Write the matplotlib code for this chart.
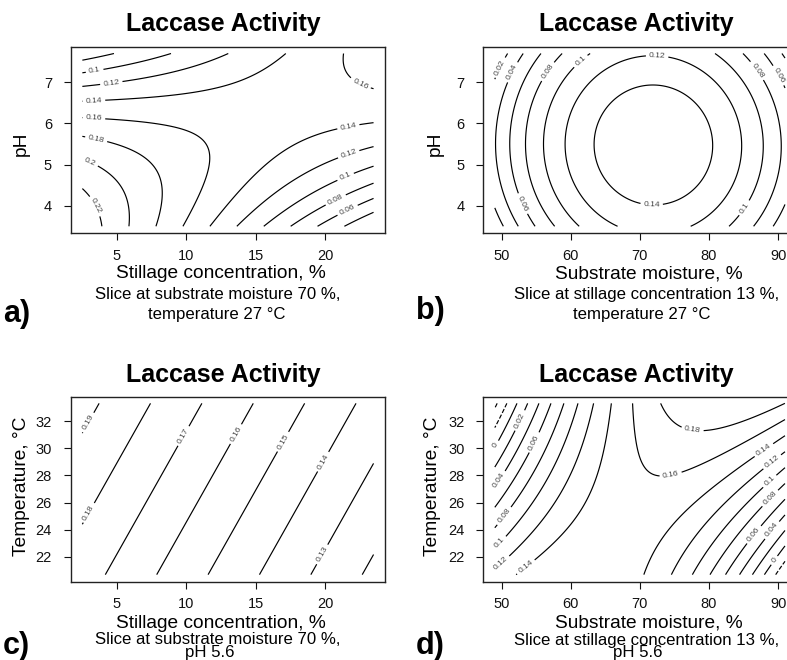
import numpy as np
import matplotlib
matplotlib.use("Agg")
import matplotlib.pyplot as plt

plt.rcParams['font.family'] = ['Liberation Sans', 'DejaVu Sans']

# ---------------- data (contour crossings) ----------------
# Panel a: stillage concentration (%) vs pH
a_level = [0.08, 0.08, 0.10, 0.10, 0.10, 0.12, 0.12, 0.12,
           0.14, 0.14, 0.14, 0.14, 0.14,
           0.16, 0.16, 0.16, 0.16, 0.16, 0.16, 0.16,
           0.18, 0.18, 0.18, 0.18, 0.18,
           0.20, 0.20, 0.20, 0.20, 0.22, 0.22,
           0.16, 0.16, 0.16,
           0.14, 0.14, 0.14, 0.14, 0.14,
           0.12, 0.12, 0.12, 0.12,
           0.10, 0.10, 0.10, 0.10,
           0.08, 0.08, 0.08, 0.06, 0.06, 0.06, 0.04, 0.04]
a_stillage = [2.43, 4.71, 2.43, 4.11, 8.8, 2.43, 5.31, 13.0,
              2.43, 4.11, 8.68, 13.5, 17.2,
              2.43, 4.11, 8.68, 11.08, 11.8, 11.56, 9.76,
              2.43, 4.2, 7.48, 8.32, 7.84,
              2.55, 3.87, 5.55, 5.91, 2.43, 3.87,
              21.4, 21.8, 23.46,
              11.68, 14.93, 18.3, 20.9, 23.46,
              13.6, 17.1, 20.7, 23.46,
              15.65, 18.3, 20.8, 23.46,
              17.57, 19.98, 23.46, 19.5, 21.2, 23.46, 21.4, 23.46]
a_ph = [7.54, 7.69, 7.22, 7.32, 7.69, 6.89, 7.02, 7.69,
        6.55, 6.57, 6.68, 7.12, 7.69,
        6.11, 6.11, 5.95, 5.58, 5.26, 4.69, 3.51,
        5.70, 5.54, 4.93, 4.28, 3.51,
        5.13, 4.92, 4.45, 3.51, 4.45, 3.51,
        7.69, 7.2, 6.88,
        3.51, 4.69, 5.58, 5.86, 6.0,
        3.51, 4.53, 5.19, 5.40,
        3.51, 4.12, 4.65, 4.95,
        3.51, 4.04, 4.53, 3.51, 3.84, 4.16, 3.51, 3.80]
a_levels = [0.04, 0.06, 0.08, 0.10, 0.12, 0.14, 0.16, 0.18, 0.20, 0.22]

# Panel b: substrate moisture (%) vs pH
b_level = [0.14, 0.14, 0.14, 0.14, 0.12, 0.12, 0.12,
           0.10, 0.10, 0.10, 0.10, 0.08, 0.08, 0.08, 0.08,
           0.06, 0.06, 0.06, 0.04, 0.04, 0.02]
b_moisture = [63.3, 80.2, 71.7, 71.7, 59.0, 84.4, 71.7,
              56.1, 88.1, 61.35, 85.0, 53.5, 90.75, 56.5, 86.96,
              51.2, 52.9, 90.0, 49.2, 51.6, 49.76]
b_ph = [5.48, 5.48, 6.94, 4.02, 5.5, 5.5, 7.65,
        5.53, 5.53, 7.53, 3.96, 5.53, 5.53, 7.28, 7.28,
        5.53, 4.04, 7.16, 5.53, 7.24, 7.36]
b_levels = [0.02, 0.04, 0.06, 0.08, 0.10, 0.12, 0.14]

# Panel c: stillage concentration (%) vs temperature (°C)
c_level = [0.19, 0.19, 0.18, 0.18, 0.18, 0.17, 0.17, 0.16, 0.16,
           0.15, 0.15, 0.14, 0.14, 0.13, 0.13, 0.12, 0.12]
c_stillage = [3.79, 2.91, 3.48, 7.34, 2.91, 4.2, 11.09, 7.9, 14.83,
              11.57, 18.57, 15.27, 22.25, 18.94, 23.6, 22.63, 23.6]
c_temp = [33.3, 31.9, 26.19, 33.3, 25.28, 20.68, 33.3, 20.68, 33.3,
          20.68, 33.3, 20.68, 33.3, 20.68, 29.0, 20.68, 22.4]
c_levels = [0.12, 0.13, 0.14, 0.15, 0.16, 0.17, 0.18, 0.19]

# Panel d: substrate moisture (%) vs temperature (°C)
d_level = [-0.04, -0.02, 0.0, 0.02, 0.04, 0.06, 0.08, 0.10, 0.12, 0.14, 0.16, 0.18, 0.18,
           0.12, 0.14, 0.10, 0.08, 0.04, 0.0, 0.02, 0.06,
           0.14, 0.16, 0.16, 0.16, 0.16, 0.16,
           0.14, 0.12, 0.10, 0.08, 0.06, 0.04, 0.02, 0.0, -0.02, -0.04,
           0.14, 0.12, 0.10, 0.08, 0.06, 0.04, 0.0,
           0.14, 0.14, 0.14, 0.14,
           0.16, 0.16, 0.16, 0.16, 0.16, 0.16,
           0.18, 0.18, 0.18]
d_moisture = [49.2, 50.7, 52.1, 53.7, 55.3, 56.9, 58.9, 61.0, 63.2, 65.9, 68.8, 73.3, 90.0,
              50.2, 53.6, 49.7, 50.4, 49.7, 49.2, 52.8, 54.8,
              52.5, 60.4, 63.3, 61.8, 60.4, 63.3,
              71.5, 75.1, 78.0, 80.4, 82.6, 84.5, 86.2, 87.6, 89.1, 90.3,
              87.9, 89.3, 89.1, 89.3, 87.1, 89.3, 89.6,
              72.9, 75.3, 79.7, 85.9,
              70.0, 71.0, 72.2, 74.4, 79.7, 90.0,
              76.3, 77.7, 80.4]
d_temp = [33.3, 33.3, 33.3, 33.3, 33.3, 33.3, 33.3, 33.3, 33.3, 33.3, 33.3, 33.3, 33.3,
          21.34, 21.2, 23.05, 25.0, 27.6, 30.2, 32.0, 30.4,
          20.7, 20.7, 20.7, 20.9, 20.7, 20.7,
          20.7, 20.7, 20.7, 20.7, 20.7, 20.7, 20.7, 20.7, 20.7, 20.7,
          29.9, 28.9, 27.4, 26.1, 23.4, 23.9, 21.7,
          23.5, 25.75, 27.5, 29.3,
          30.3, 28.9, 28.3, 28.2, 28.9, 31.5,
          31.9, 31.7, 31.5]
d_levels = [-0.04, -0.02, 0.0, 0.02, 0.04, 0.06, 0.08, 0.10, 0.12, 0.14, 0.16, 0.18]

# factor ranges of the design
stillage_range = (2.5, 23.5)
ph_range = (3.5, 7.7)
moisture_range = (49.0, 91.0)
temp_range = (20.7, 33.3)

# ---------------- second-order response surface fitted to the readings ----------------
def surface(x, y, z, xr, yr, linear=False, n=220):
    x = np.asarray(x, float); y = np.asarray(y, float); z = np.asarray(z, float)
    cx, sx = (xr[0] + xr[1]) / 2, (xr[1] - xr[0]) / 2
    cy, sy = (yr[0] + yr[1]) / 2, (yr[1] - yr[0]) / 2

    def design(xx, yy):
        u = (xx - cx) / sx; v = (yy - cy) / sy
        cols = [np.ones_like(u), u, v]
        if not linear:
            cols += [u * u, v * v, u * v]
        return np.stack(cols, axis=-1)

    coef, *_ = np.linalg.lstsq(design(x, y), z, rcond=None)
    gx = np.linspace(xr[0], xr[1], n)
    gy = np.linspace(yr[0], yr[1], n)
    GX, GY = np.meshgrid(gx, gy)
    return GX, GY, design(GX, GY) @ coef


W, H = 787, 660
fig = plt.figure(figsize=(W / 100, H / 100), dpi=100)


def add_ax(l, t, r, b):
    return fig.add_axes([l / W, 1 - b / H, (r - l) / W, (b - t) / H])


def ftext(x, y, s, **kw):
    fig.text(x / W, 1 - y / H, s, **kw)


def pad(r):
    d = 0.04 * (r[1] - r[0])
    return (r[0] - d, r[1] + d)


def fmt(v):
    return f"{round(v, 3):g}"


def style(ax, xt, yt, xr, yr):
    ax.set_xlim(*pad(xr)); ax.set_ylim(*pad(yr))
    ax.set_xticks(xt); ax.set_yticks(yt)
    ax.tick_params(direction='out', length=5, width=0.8, labelsize=10.5, colors='#111111')
    ax.tick_params(axis='x', pad=6.5)
    ax.tick_params(axis='y', pad=8.5)
    for sp in ax.spines.values():
        sp.set_linewidth(1.0); sp.set_color('#222222')


def draw(ax, GX, GY, Z, levels, labels):
    cs = ax.contour(GX, GY, Z, levels=levels, colors='black', linewidths=0.85)
    ax.clabel(cs, fmt=fmt, fontsize=6, colors='#444444', inline=True,
              inline_spacing=3, manual=labels)


# label positions (layout)
a_lab = [(3.39, 7.27), (4.59, 6.98), (3.34, 6.55), (3.34, 6.13), (3.5, 5.62), (3.03, 5.05),
         (3.27, 3.96), (22.6, 7.0), (21.7, 5.89), (21.7, 5.26), (21.5, 4.69), (20.7, 4.19),
         (21.7, 3.84)]
b_lab = [(49.76, 7.36), (51.6, 7.24), (56.5, 7.28), (61.35, 7.53), (72.5, 7.65), (71.7, 4.02),
         (52.9, 4.04), (85.0, 3.96), (86.96, 7.28), (90.0, 7.16)]
c_lab = [(2.91, 31.9), (2.91, 25.28), (9.76, 30.92), (13.49, 31.09), (16.85, 30.55),
         (19.74, 29.08), (19.74, 22.22)]
d_lab = [(52.8, 32.0), (49.2, 30.2), (54.8, 30.4), (49.7, 27.6), (50.4, 25.0), (49.7, 23.05),
         (50.2, 21.34), (53.6, 21.2), (77.7, 31.7), (74.4, 28.2), (87.9, 29.9), (89.3, 28.9),
         (89.1, 27.4), (89.3, 26.1), (87.1, 23.4), (89.3, 23.9), (89.6, 21.7)]

# ---- panel a
ax = add_ax(70.7, 46.6, 385.2, 233.2)
style(ax, [5, 10, 15, 20], [4, 5, 6, 7], stillage_range, ph_range)
draw(ax, *surface(a_stillage, a_ph, a_level, stillage_range, ph_range), a_levels, a_lab)
# ---- panel b
ax = add_ax(483.2, 46.6, 796.6, 233.2)
style(ax, [50, 60, 70, 80, 90], [4, 5, 6, 7], moisture_range, ph_range)
draw(ax, *surface(b_moisture, b_ph, b_level, moisture_range, ph_range), b_levels, b_lab)
# ---- panel c
ax = add_ax(70.7, 396.5, 385.2, 581.5)
style(ax, [5, 10, 15, 20], [22, 24, 26, 28, 30, 32], stillage_range, temp_range)
draw(ax, *surface(c_stillage, c_temp, c_level, stillage_range, temp_range, linear=True),
     c_levels, c_lab)
# ---- panel d
ax = add_ax(483.2, 396.5, 796.6, 581.5)
style(ax, [50, 60, 70, 80, 90], [22, 24, 26, 28, 30, 32], moisture_range, temp_range)
draw(ax, *surface(d_moisture, d_temp, d_level, moisture_range, temp_range), d_levels, d_lab)

# ---------------- texts ----------------
title = "Laccase Activity"
for x, y in [(223, 31.5), (636.7, 31.5), (223, 381.7), (636.7, 381.7)]:
    ftext(x, y, title, fontsize=18, fontweight='bold', ha='center', va='baseline')

ftext(220.5, 278.5, "Stillage concentration, %", fontsize=13.8, ha='center', va='baseline')
ftext(648.7, 278.5, "Substrate moisture, %", fontsize=13.8, ha='center', va='baseline')
ftext(220.5, 627.5, "Stillage concentration, %", fontsize=13.8, ha='center', va='baseline')
ftext(648.7, 627.5, "Substrate moisture, %", fontsize=13.8, ha='center', va='baseline')

ftext(217.5, 299, "Slice at substrate moisture 70 %,", fontsize=12.1, ha='center', va='baseline')
ftext(216.7, 319.5, "temperature 27 °C", fontsize=12.1, ha='center', va='baseline')
ftext(646.7, 299, "Slice at stillage concentration 13 %,", fontsize=12.1, ha='center', va='baseline')
ftext(641.7, 319.5, "temperature 27 °C", fontsize=12.1, ha='center', va='baseline')
ftext(217.5, 644.5, "Slice at substrate moisture 70 %,", fontsize=12.1, ha='center', va='baseline')
ftext(210, 656.5, "pH 5.6", fontsize=12.1, ha='center', va='baseline')
ftext(646.7, 644.5, "Slice at stillage concentration 13 %,", fontsize=12.1, ha='center', va='baseline')
ftext(638, 656.5, "pH 5.6", fontsize=12.1, ha='center', va='baseline')

ftext(21.5, 144, "pH", fontsize=13.8, ha='center', va='center', rotation=90)
ftext(435, 144, "pH", fontsize=13.8, ha='center', va='center', rotation=90)
ftext(21.5, 486, "Temperature, °C", fontsize=13.8, ha='center', va='center', rotation=90)
ftext(432, 486, "Temperature, °C", fontsize=13.8, ha='center', va='center', rotation=90)

for x, y, s in [(3, 322, "a)"), (416, 319, "b)"), (3, 654, "c)"), (416, 654, "d)")]:
    ftext(x, y, s, fontsize=22, fontweight='bold', ha='left', va='baseline')

fig.savefig("out.png", dpi=100)
